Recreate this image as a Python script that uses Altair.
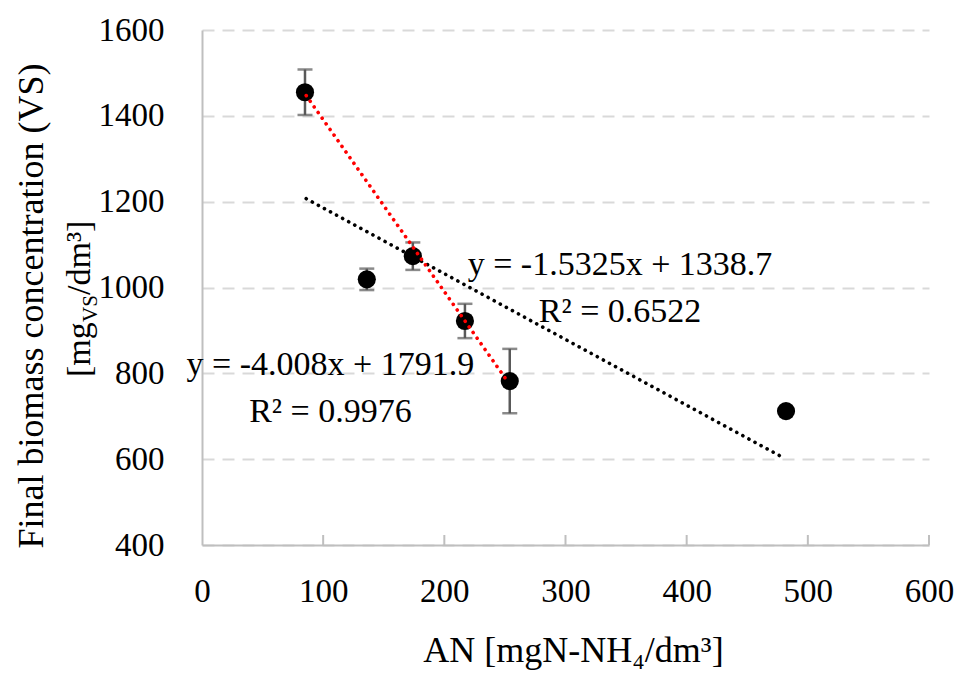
import altair as alt
import pandas as pd

FONT = "Liberation Serif"

# ---- data ----
an = [85, 136, 174, 217, 254, 482]          # AN [mgN-NH4/dm3]
vs = [1455, 1019, 1073, 922, 782, 712]      # final biomass [mg VS/dm3]
err = [53, 25, 32, 40, 75, 0]               # error bar half-length

red_x = [86, 250]                            # trendline extent (first 5 points)
red_slope, red_int = -4.008, 1791.9
blk_x = [86, 478]                            # trendline extent (all points)
blk_slope, blk_int = -1.5325, 1338.7

x_ticks = [0, 100, 200, 300, 400, 500, 600]
y_ticks = [400, 600, 800, 1000, 1200, 1400, 1600]

ann_text = ["y = -1.5325x + 1338.7", "R\u00b2 = 0.6522",
            "y = -4.008x + 1791.9", "R\u00b2 = 0.9976"]
ann_x = [345, 345, 106, 106]
ann_y = [1029, 920, 796, 687]

# ---- tables ----
pts = pd.DataFrame({"x": an, "y": vs})
bars = pd.DataFrame({"x": an, "lo": [v - e for v, e in zip(vs, err)],
                     "hi": [v + e for v, e in zip(vs, err)], "e": err})
bars = bars[bars["e"] > 0]
caps = pd.DataFrame({"x": list(bars["x"]) * 2,
                     "y": list(bars["lo"]) + list(bars["hi"])})
red = pd.DataFrame({"x": red_x, "y": [red_slope * v + red_int for v in red_x]})
blk = pd.DataFrame({"x": blk_x, "y": [blk_slope * v + blk_int for v in blk_x]})
ann = pd.DataFrame({"x": ann_x, "y": ann_y, "t": ann_text})
xt = pd.DataFrame({"x": x_ticks[1:]})

W, H = 727, 515

xs = alt.Scale(domain=[0, 600], nice=False, zero=False)
ys = alt.Scale(domain=[400, 1600], nice=False, zero=False)

x_axis = alt.Axis(values=x_ticks, format="d", grid=False, ticks=False, domainColor="#bfbfbf",
                  domainWidth=2, labelFont=FONT, labelFontSize=33, labelColor="#000000",
                  labelPadding=30, labelFlush=False, title="AN [mgN-NH\u2084/dm\u00b3]",
                  titleFont=FONT, titleFontSize=36, titleFontWeight="normal",
                  titleColor="#000000", titleBaseline="alphabetic", titleX=371, titleY=116)
y_axis = alt.Axis(values=y_ticks, format="d", grid=True, gridDash=[12, 8],
                  gridColor="#d9d9d9", gridWidth=2, ticks=False, domainColor="#bfbfbf",
                  domainWidth=2, labelFont=FONT, labelFontSize=33, labelColor="#000000",
                  labelPadding=38, title=None)


def X(f="x"):
    return alt.X(f"{f}:Q", scale=xs, axis=x_axis, title="AN [mgN-NH\u2084/dm\u00b3]")


def Y(f="y"):
    return alt.Y(f"{f}:Q", scale=ys, axis=y_axis, title=None)


rule = alt.Chart(bars).mark_rule(color="#595959", strokeWidth=2.5).encode(
    x=X(), y=Y("lo"), y2="hi:Q")
cap = alt.Chart(caps).mark_tick(color="#595959", orient="horizontal", size=15,
                                thickness=2.5).encode(x=X(), y=Y())
dots = alt.Chart(pts).mark_circle(color="#000000", size=330, opacity=1).encode(x=X(), y=Y())
line_b = alt.Chart(blk).mark_line(color="#000000", strokeWidth=3.6, strokeDash=[0.1, 6.8],
                                  strokeCap="round").encode(x=X(), y=Y())
line_r = alt.Chart(red).mark_line(color="#ff0000", strokeWidth=3.6, strokeDash=[0.1, 6.8],
                                  strokeCap="round").encode(x=X(), y=Y())
ticks = alt.Chart(xt).mark_rule(color="#bfbfbf", strokeWidth=2).encode(
    x=X(), y=alt.value(H - 10), y2=alt.value(H))
texts = alt.Chart(ann).mark_text(font=FONT, fontSize=34, color="#000000", align="center",
                                 baseline="alphabetic").encode(x=X(), y=Y(), text="t:N")


def label(txt, x, y, size, align="left"):
    return alt.Chart(pd.DataFrame({"t": [txt]})).mark_text(
        font=FONT, fontSize=size, angle=270, align=align, baseline="alphabetic",
        color="#000000").encode(x=alt.value(x), y=alt.value(y), text="t:N")


ytitle = (label("Final biomass concentration (VS)", -159, 276, 36, align="center")
          + label("[mg", -112, 347, 34)
          + label("VS", -105, 292, 21)
          + label("/dm\u00b3]", -112, 265, 34))

chart = alt.layer(ticks, rule, cap, dots, line_b, line_r, texts, ytitle).properties(
    width=W, height=H,
    autosize=alt.AutoSizeParams(type="none"),
    padding={"left": 194, "top": 22, "right": 28, "bottom": 128},
    background="#ffffff",
).configure_view(strokeWidth=0)

chart.save("out.html", embed_options={"renderer": "svg", "actions": False})
